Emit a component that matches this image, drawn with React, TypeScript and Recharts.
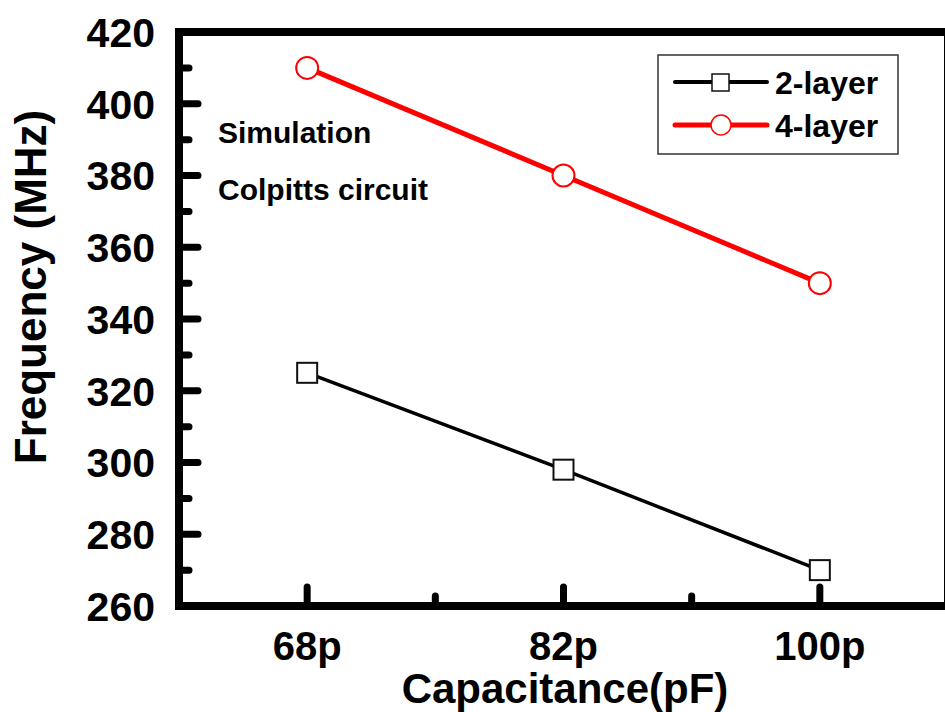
import React from "react";
import { LineChart, Line, XAxis, YAxis, ReferenceLine, Label } from "recharts";

const capacitances = ["68p", "82p", "100p"];
const twoLayer = [325, 298, 270];
const fourLayer = [410, 380, 350];
const xTicks = [1, 1.5, 2, 2.5, 3];
const yTicks = [260, 270, 280, 290, 300, 310, 320, 330, 340, 350, 360, 370, 380, 390, 400, 410, 420];

const data = capacitances.map((c, i) => ({
  x: i + 1,
  name: c,
  twoLayer: twoLayer[i],
  fourLayer: fourLayer[i],
}));

const FONT = "'Liberation Sans', Arial, Helvetica, sans-serif";

const YTick = (props: any) => {
  const { x, y, payload } = props;
  const major = payload.value % 20 === 0;
  return (
    <g>
      <line x1={x} y1={y} x2={x + (major ? 19 : 10)} y2={y} stroke="#000" strokeWidth={7} strokeLinecap="round" />
      {major && (
        <text x={x - 24} y={y} dy="0.36em" textAnchor="end" fontFamily={FONT} fontWeight="bold" fontSize={41} fill="#000">
          {payload.value}
        </text>
      )}
    </g>
  );
};

const XTick = (props: any) => {
  const { x, y, payload } = props;
  const major = Number.isInteger(payload.value);
  return (
    <g>
      <line x1={x} y1={y} x2={x} y2={y - (major ? 19 : 10)} stroke="#000" strokeWidth={7} strokeLinecap="round" />
      {major && (
        <text x={x} y={y + 54} textAnchor="middle" fontFamily={FONT} fontWeight="bold" fontSize={40} fill="#000">
          {capacitances[payload.value - 1]}
        </text>
      )}
    </g>
  );
};

const SquareDot = (props: any) => {
  const { cx, cy, index } = props;
  if (cx == null || cy == null) return null;
  return <rect key={`sq-${index}`} x={cx - 10} y={cy - 10} width={20} height={20} fill="#fff" stroke="#111" strokeWidth={2} />;
};

const CircleDot = (props: any) => {
  const { cx, cy, index } = props;
  if (cx == null || cy == null) return null;
  return <circle key={`ci-${index}`} cx={cx} cy={cy} r={11} fill="#fff" stroke="#ff0000" strokeWidth={2} />;
};

export default function App() {
  return (
    <div style={{ position: "fixed", left: 0, top: 0, width: 945, height: 712, overflow: "hidden", background: "#fff" }}>
      <LineChart width={960} height={712} data={data} margin={{ top: 32, right: 12, bottom: 0, left: 0 }}>
        <XAxis
          dataKey="x"
          type="number"
          domain={[0.5, 3.5]}
          ticks={xTicks}
          height={106}
          tickSize={0}
          tickMargin={0}
          tickLine={false}
          tick={<XTick />}
          interval={0}
          axisLine={{ stroke: "#000", strokeWidth: 8, strokeLinecap: "square" }}
        >
          <Label
            content={() => (
              <text x={565} y={703} textAnchor="middle" fontFamily={FONT} fontWeight="bold" fontSize={42} fill="#000">
                Capacitance(pF)
              </text>
            )}
          />
        </XAxis>
        <YAxis
          type="number"
          domain={[260, 420]}
          ticks={yTicks}
          width={179}
          tickSize={0}
          tickMargin={0}
          tickLine={false}
          tick={<YTick />}
          interval={0}
          axisLine={{ stroke: "#000", strokeWidth: 8, strokeLinecap: "square" }}
        >
          <Label
            content={() => (
              <text
                x={46}
                y={287}
                textAnchor="middle"
                transform="rotate(-90, 46, 287)"
                fontFamily={FONT}
                fontWeight="bold"
                fontSize={44}
                fill="#000"
              >
                Frequency (MHz)
              </text>
            )}
          />
        </YAxis>
        <ReferenceLine y={420} stroke="#000" strokeWidth={8} ifOverflow="visible" />
        <ReferenceLine x={3.5} stroke="#000" strokeWidth={8} ifOverflow="visible" />
        <Line
          dataKey="twoLayer"
          stroke="#000"
          strokeWidth={3.5}
          dot={<SquareDot />}
          isAnimationActive={false}
        />
        <Line
          dataKey="fourLayer"
          stroke="#ff0000"
          strokeWidth={5}
          dot={<CircleDot />}
          isAnimationActive={false}
        />
      </LineChart>
      <svg width={945} height={712} style={{ position: "absolute", left: 0, top: 0, pointerEvents: "none" }}>
        <text x={218} y={143} fontFamily={FONT} fontWeight="bold" fontSize={30} fill="#000">
          Simulation
        </text>
        <text x={218} y={200} fontFamily={FONT} fontWeight="bold" fontSize={30} fill="#000">
          Colpitts circuit
        </text>
        <rect x={658} y={55} width={240} height={99} fill="#fff" stroke="#333" strokeWidth={1.5} />
        <line x1={675} y1={82} x2={767} y2={82} stroke="#000" strokeWidth={4} strokeLinecap="round" />
        <rect x={712} y={74} width={17} height={17} fill="#fff" stroke="#111" strokeWidth={1.5} />
        <text x={775} y={82} dy="0.36em" fontFamily={FONT} fontWeight="bold" fontSize={32} fill="#000">
          2-layer
        </text>
        <line x1={675} y1={125} x2={767} y2={125} stroke="#ff0000" strokeWidth={5} strokeLinecap="round" />
        <circle cx={721} cy={125} r={10} fill="#fff" stroke="#ff0000" strokeWidth={1.5} />
        <text x={775} y={125} dy="0.36em" fontFamily={FONT} fontWeight="bold" fontSize={32} fill="#000">
          4-layer
        </text>
      </svg>
    </div>
  );
}
